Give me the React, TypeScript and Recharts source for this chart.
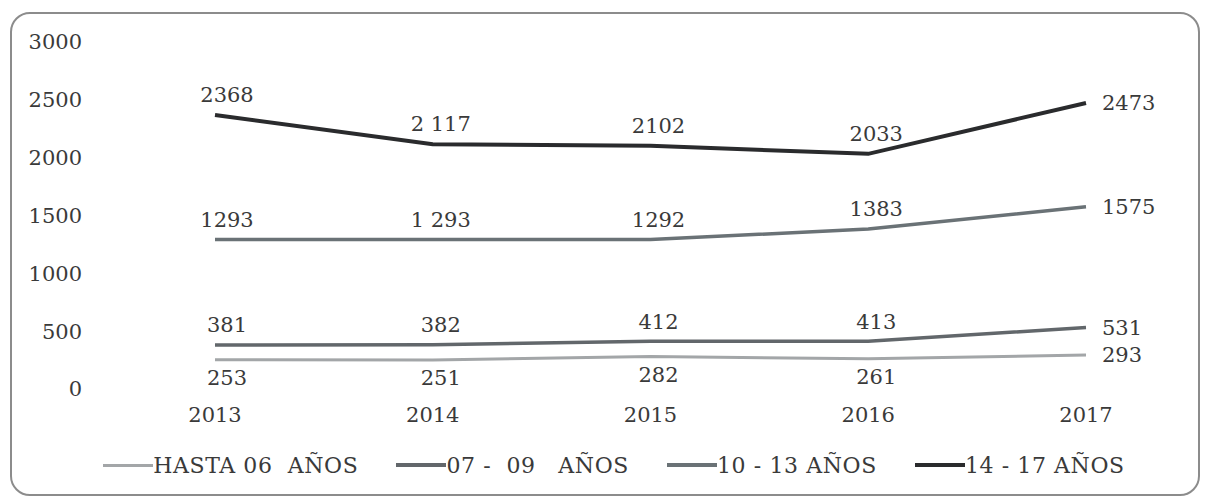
import React from "react";
import { LineChart, Line, XAxis, YAxis, Legend, LabelList } from "recharts";

const years = ["2013", "2014", "2015", "2016", "2017"];
const hasta06 = [253, 251, 282, 261, 293];
const de07a09 = [381, 382, 412, 413, 531];
const de10a13 = [1293, 1293, 1292, 1383, 1575];
const de14a17 = [2368, 2117, 2102, 2033, 2473];

// label texts as printed on the original (some carry a thousands space)
const lbl06 = ["253", "251", "282", "261", "293"];
const lbl07 = ["381", "382", "412", "413", "531"];
const lbl10 = ["1293", "1 293", "1292", "1383", "1575"];
const lbl14 = ["2368", "2 117", "2102", "2033", "2473"];

const yTicks = [0, 500, 1000, 1500, 2000, 2500, 3000];

const seriesNames = ["HASTA 06  AÑOS", "07 -  09   AÑOS", "10 - 13 AÑOS", "14 - 17 AÑOS"];

const data = years.map((y, i) => ({
  year: y,
  s06: hasta06[i],
  s07: de07a09[i],
  s10: de10a13[i],
  s14: de14a17[i],
}));

const FONT = "'DejaVu Serif', serif";
const TXT = "#3a3a3a";

const makeLabel = (texts: string[], below: boolean) => (p: any) => {
  const { x, y, index } = p;
  if (x == null || y == null) return null;
  const last = index === texts.length - 1;
  if (last) {
    return (
      <text x={x + 16} y={y} dy="0.35em" textAnchor="start" fontFamily={FONT} fontSize={21} fill={TXT}>
        {texts[index]}
      </text>
    );
  }
  return (
    <text
      x={x + (index === 0 ? 12 : 8)}
      y={below ? y + 18 : y - 20}
      dy="0.35em"
      textAnchor="middle"
      fontFamily={FONT}
      fontSize={21}
      fill={TXT}
      style={{ whiteSpace: "pre" }}
    >
      {texts[index]}
    </text>
  );
};

const legendItems = [
  { name: seriesNames[0], color: "#a3a6a8", w: 3 },
  { name: seriesNames[1], color: "#62676b", w: 3.5 },
  { name: seriesNames[2], color: "#6a7276", w: 3.5 },
  { name: seriesNames[3], color: "#2a2b2d", w: 4 },
];

const renderLegend = () => (
  <div
    style={{
      display: "flex",
      justifyContent: "center",
      alignItems: "center",
      gap: 38,
      height: 50,
      paddingLeft: 30,
      fontFamily: FONT,
      fontSize: 22,
      letterSpacing: 0.6,
      color: TXT,
    }}
  >
    {legendItems.map((it) => (
      <div key={it.name} style={{ display: "flex", alignItems: "center" }}>
        <span style={{ display: "inline-block", width: 50, height: it.w, background: it.color }} />
        <span style={{ whiteSpace: "pre" }}>{it.name}</span>
      </div>
    ))}
  </div>
);

export default function App() {
  return (
    <div style={{ position: "absolute", left: 0, top: 0, width: 1208, height: 500, background: "#fff" }}>
      <div
        style={{
          position: "absolute",
          left: 10,
          top: 12,
          width: 1190,
          height: 484,
          border: "2px solid #8c8c8c",
          borderRadius: 20,
          boxSizing: "border-box",
        }}
      />
      <div style={{ position: "absolute", left: 0, top: 0 }}>
        <LineChart width={1208} height={500} data={data} margin={{ top: 42, right: 10, bottom: 10, left: 0 }}>
          <XAxis
            dataKey="year"
            axisLine={false}
            tickLine={false}
            height={51}
            tickMargin={12}
            padding={{ left: 125, right: 112 }}
            tick={{ fontFamily: FONT, fontSize: 21, fill: TXT }}
          />
          <YAxis
            domain={[0, 3000]}
            ticks={yTicks}
            width={90}
            axisLine={false}
            tickLine={false}
            tick={{ fontFamily: FONT, fontSize: 21, fill: TXT }}
          />
          <Legend verticalAlign="bottom" height={50} content={renderLegend} />
          <Line type="linear" dataKey="s06" stroke="#a3a6a8" strokeWidth={3} dot={false} isAnimationActive={false}>
            <LabelList dataKey="s06" content={makeLabel(lbl06, true)} />
          </Line>
          <Line type="linear" dataKey="s07" stroke="#62676b" strokeWidth={3.5} dot={false} isAnimationActive={false}>
            <LabelList dataKey="s07" content={makeLabel(lbl07, false)} />
          </Line>
          <Line type="linear" dataKey="s10" stroke="#6a7276" strokeWidth={3.5} dot={false} isAnimationActive={false}>
            <LabelList dataKey="s10" content={makeLabel(lbl10, false)} />
          </Line>
          <Line type="linear" dataKey="s14" stroke="#2a2b2d" strokeWidth={4} dot={false} isAnimationActive={false}>
            <LabelList dataKey="s14" content={makeLabel(lbl14, false)} />
          </Line>
        </LineChart>
      </div>
    </div>
  );
}
